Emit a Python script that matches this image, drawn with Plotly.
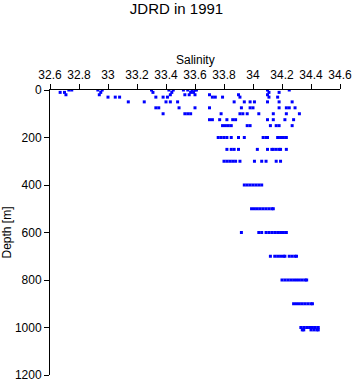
import plotly.graph_objects as go

depth_levels = [0, 10, 20, 30, 50, 75, 100, 125, 150, 200, 250, 300,
                400, 500, 600, 700, 800, 900, 1000, 1010]

sal_0 = [32.73, 32.75, 32.93, 32.96, 33.30, 33.42, 33.45, 33.52, 33.55, 33.58, 33.60, 33.61, 34.10, 34.25]
sal_10 = [32.67, 32.70, 32.95, 33.31, 33.44, 33.57, 33.59, 34.11, 34.18]
sal_20 = [32.71, 32.94, 33.43, 33.53, 33.56, 33.60, 33.70, 33.90, 34.10]
sal_30 = [33.00, 33.05, 33.08, 33.33, 33.38, 33.41, 33.72, 33.74, 33.79, 33.91, 34.11, 34.17]
sal_50 = [33.14, 33.25, 33.40, 33.43, 33.48, 33.87, 33.94, 33.98, 34.01, 34.10, 34.18, 34.27]
sal_75 = [33.33, 33.35, 33.49, 33.60, 33.70, 33.92, 33.98, 34.00, 34.18, 34.23, 34.25, 34.29]
sal_100 = [33.38, 33.53, 33.55, 33.57, 33.78, 33.91, 33.93, 33.96, 34.04, 34.14, 34.23, 34.32]
sal_125 = [33.70, 33.72, 33.77, 33.82, 33.86, 33.88, 34.10, 34.14, 34.22, 34.28]
sal_150 = [33.79, 33.81, 33.83, 33.85, 33.96, 33.98, 34.12, 34.16, 34.18, 34.27]
sal_200 = [33.76, 33.78, 33.80, 33.82, 33.85, 33.90, 33.94, 34.07, 34.09, 34.10, 34.17, 34.19, 34.21, 34.23]
sal_250 = [33.82, 33.85, 33.87, 33.90, 34.03, 34.10, 34.13, 34.14, 34.16, 34.18, 34.19, 34.23]
sal_300 = [33.80, 33.82, 33.84, 33.86, 33.88, 33.91, 34.01, 34.06, 34.09, 34.16, 34.19]
sal_400 = [33.94, 33.96, 33.98, 34.00, 34.02, 34.04, 34.06]
sal_500 = [33.99, 34.01, 34.03, 34.05, 34.07, 34.09, 34.11, 34.13, 34.14]
sal_600 = [33.92, 34.04, 34.06, 34.09, 34.11, 34.13, 34.15, 34.17, 34.19, 34.21, 34.23]
sal_700 = [34.12, 34.15, 34.17, 34.19, 34.21, 34.22, 34.25, 34.27, 34.29, 34.30]
sal_800 = [34.20, 34.22, 34.24, 34.26, 34.28, 34.30, 34.32, 34.34, 34.36, 34.37]
sal_900 = [34.28, 34.30, 34.32, 34.34, 34.36, 34.38, 34.40, 34.41]
sal_1000 = [34.33, 34.35, 34.37, 34.39, 34.41, 34.43, 34.45]
sal_1010 = [34.34, 34.35, 34.40, 34.42, 34.44, 34.45]

sal_by_level = [sal_0, sal_10, sal_20, sal_30, sal_50, sal_75, sal_100, sal_125,
                sal_150, sal_200, sal_250, sal_300, sal_400, sal_500, sal_600,
                sal_700, sal_800, sal_900, sal_1000, sal_1010]

x_ticks = [32.6, 32.8, 33.0, 33.2, 33.4, 33.6, 33.8, 34.0, 34.2, 34.4, 34.6]
x_tick_text = ["32.6", "32.8", "33", "33.2", "33.4", "33.6", "33.8", "34", "34.2", "34.4", "34.6"]
y_ticks = [0, 200, 400, 600, 800, 1000, 1200]

xs, ys = [], []
for d, sals in zip(depth_levels, sal_by_level):
    for s in sals:
        xs.append(s)
        ys.append(d)

fig = go.Figure()
fig.add_trace(go.Scatter(
    x=xs, y=ys, mode="markers",
    marker=dict(symbol="square", size=3, color="#0000ff", line=dict(width=0)),
    showlegend=False,
))

font = "Liberation Sans, Arial, sans-serif"
fig.update_layout(
    width=353, height=384,
    margin=dict(l=50, r=13, t=90, b=9, autoexpand=False),
    paper_bgcolor="white", plot_bgcolor="white",
    font=dict(family=font, size=12, color="black"),
    title=dict(text="JDRD in 1991", x=0.5, xanchor="center", y=0.99, yanchor="top",
               font=dict(family=font, size=15, color="black")),
    xaxis=dict(
        side="top", range=[32.6, 34.6], tickvals=x_ticks, ticktext=x_tick_text,
        showline=True, linecolor="black", linewidth=1, mirror=False,
        ticks="outside", ticklen=5, tickcolor="black", tickwidth=1,
        showgrid=False, zeroline=False, automargin=False,
        tickfont=dict(size=12),
    ),
    yaxis=dict(
        range=[1200, 0], tickvals=y_ticks,
        showline=True, linecolor="black", linewidth=1, mirror=False,
        ticks="outside", ticklen=5, tickcolor="black", tickwidth=1,
        showgrid=False, zeroline=False, automargin=False,
        title=dict(text="Depth [m]", font=dict(size=12)),
        tickfont=dict(size=12),
    ),
    annotations=[dict(
        text="Salinity", xref="paper", yref="paper", x=0.5, y=1 + 30 / 285,
        xanchor="center", yanchor="middle", showarrow=False,
        font=dict(family=font, size=12, color="black"),
    )],
)

fig.write_html("out.html")
